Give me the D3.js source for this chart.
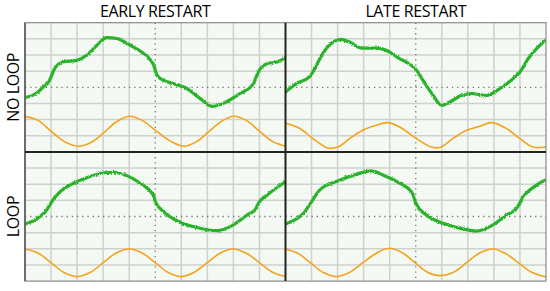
<!DOCTYPE html>
<html lang="en">
    <head>
        <title>Restart traces</title>
        <script src="https://d3js.org/d3.v7.min.js" charset="utf-8"></script>
    </head>
    <style>
            body { margin: 0; background: #fff; }
            .label {
              font-family: "Open Sans", sans-serif;
              font-size: 16px;
              letter-spacing: -0.4px;
              fill: #000;
            }
            .grid line {
              stroke: #cfd1cf;
              stroke-width: 1.5px;
            }
            .center {
              stroke: #777;
              stroke-width: 1.3px;
              stroke-dasharray: 1.3 3.9;
            }
            .green {
              fill: none;
              stroke: #2bb32b;
              stroke-width: 3.2px;
              stroke-linejoin: round;
            }
            .orange {
              fill: none;
              stroke: #f5a21c;
              stroke-width: 1.6px;
            }
    </style>
    <body>
        <script>
            // column / row labels
            var colLabels = ["EARLY RESTART", "LATE RESTART"];
            var rowLabels = ["NO LOOP", "LOOP"];

            // traces in screen divisions: [x (0..10), y (-4..4)]
            var greenEarlyNoLoop = [[0,-0.64],[0.45,-0.35],[0.77,0.12],[0.9,0.3],[1.02,0.72],[1.1,1.05],[1.3,1.45],[1.46,1.57],[1.99,1.67],[2.37,1.98],[2.76,2.6],[3.14,3.08],[3.53,3.02],[4.04,2.6],[4.54,2.11],[4.87,1.57],[4.96,1.3],[5.02,0.95],[5.19,0.54],[5.69,0.23],[6.22,-0.08],[6.73,-0.7],[7.18,-1.18],[7.62,-0.99],[8.27,-0.37],[8.72,0.12],[8.83,0.45],[8.93,0.87],[9.3,1.47],[9.68,1.57],[10,1.84]];
            var orangeEarlyNoLoop = [[0,-1.8],[0.5,-2.05],[1.0,-2.72],[1.5,-3.35],[2.05,-3.65],[2.55,-3.4],[3.0,-2.85],[3.5,-2.15],[4.0,-1.79],[4.5,-2.05],[5.05,-2.72],[5.6,-3.35],[6.1,-3.65],[6.6,-3.35],[7.05,-2.75],[7.55,-2.1],[8.0,-1.79],[8.5,-2.05],[9.0,-2.72],[9.5,-3.35],[10,-3.65]];

            var greenLateNoLoop = [[0,-0.29],[0.41,0.23],[0.92,0.64],[1.05,0.95],[1.43,2.09],[1.82,2.8],[2.14,2.97],[2.46,2.8],[2.91,2.43],[3.49,2.43],[3.87,2.29],[4.38,1.78],[4.83,1.36],[5.03,1.05],[5.28,0.43],[5.67,-0.5],[5.99,-1.11],[6.31,-0.91],[6.76,-0.5],[7.14,-0.39],[7.72,-0.5],[8.23,-0.08],[8.74,0.54],[9.0,0.95],[9.32,1.78],[9.64,2.4],[10,2.93]];
            var orangeLateNoLoop = [[0,-2.21],[0.54,-2.54],[1.04,-3.16],[1.62,-3.76],[2.0,-3.7],[2.46,-3.18],[2.96,-2.66],[3.49,-2.35],[3.92,-2.19],[4.38,-2.46],[5.03,-3.18],[5.6,-3.7],[5.92,-3.73],[6.42,-3.18],[6.95,-2.66],[7.46,-2.41],[7.91,-2.19],[8.49,-2.56],[9.0,-3.18],[9.5,-3.7],[10,-3.7]];

            var greenEarlyLoop = [[0,-0.46],[0.45,-0.15],[0.83,0.4],[0.95,0.7],[1.03,0.92],[1.35,1.54],[1.86,2.06],[2.37,2.4],[3.01,2.71],[3.4,2.74],[3.91,2.53],[4.42,2.06],[4.87,1.44],[4.96,1.2],[5.0,0.92],[5.32,0.3],[5.96,-0.36],[6.73,-0.73],[7.31,-0.88],[7.88,-0.63],[8.53,0.09],[8.85,0.45],[8.97,0.85],[9.3,1.33],[10,2.15]];
            var orangeEarlyLoop = [[0,-2.01],[0.5,-2.26],[1.0,-2.86],[1.5,-3.47],[2.0,-3.72],[2.5,-3.47],[3.0,-2.86],[3.5,-2.26],[4.0,-2.01],[4.5,-2.26],[5.0,-2.86],[5.5,-3.47],[5.98,-3.72],[6.5,-3.45],[7.0,-2.86],[7.5,-2.26],[7.97,-2.01],[8.5,-2.28],[9.0,-2.86],[9.5,-3.45],[10,-3.72]];

            var greenLateLoop = [[0,-0.46],[0.54,-0.01],[0.73,0.28],[0.92,0.71],[1.31,1.64],[2.01,2.2],[2.72,2.61],[3.3,2.82],[3.74,2.57],[4.38,2.06],[4.83,1.54],[4.93,1.2],[5.0,0.82],[5.41,0.09],[6.05,-0.42],[6.69,-0.73],[7.33,-0.9],[7.85,-0.63],[8.49,0.09],[8.87,0.51],[9.13,1.23],[9.64,1.95],[10,2.28]];
            var orangeLateLoop = [[0,-2.01],[0.5,-2.3],[0.95,-2.86],[1.45,-3.47],[1.95,-3.72],[2.45,-3.47],[2.97,-2.86],[3.5,-2.26],[4.0,-1.97],[4.5,-2.26],[4.97,-2.86],[5.45,-3.45],[5.92,-3.66],[6.45,-3.45],[6.95,-2.86],[7.45,-2.26],[7.97,-2.01],[8.45,-2.3],[8.97,-2.9],[9.47,-3.47],[10,-3.74]];

            var panels = [
                {col: 0, row: 0, green: greenEarlyNoLoop, orange: orangeEarlyNoLoop},
                {col: 1, row: 0, green: greenLateNoLoop, orange: orangeLateNoLoop},
                {col: 0, row: 1, green: greenEarlyLoop, orange: orangeEarlyLoop},
                {col: 1, row: 1, green: greenLateLoop, orange: orangeLateLoop}
            ];

            var width = 550, height = 291;
            var padL = 25, padT = 22.7, pw = 260.5, ph = 129.2;

            var svg = d3.select("body").append("svg")
                .attr("width", width)
                .attr("height", height);

            // vertical-only jitter for the noisy green trace
            var defs = svg.append("defs");
            var filt = defs.append("filter")
                .attr("id", "noise")
                .attr("x", "-5%").attr("y", "-20%")
                .attr("width", "110%").attr("height", "140%");
            filt.append("feTurbulence")
                .attr("type", "fractalNoise")
                .attr("baseFrequency", "1.1 0.9")
                .attr("numOctaves", 2)
                .attr("seed", 3)
                .attr("result", "turb");
            filt.append("feColorMatrix")
                .attr("in", "turb")
                .attr("type", "matrix")
                .attr("values", "0 0 0 0 0.5  0 1 0 0 0  0 0 1 0 0  0 0 0 0 1")
                .attr("result", "map");
            filt.append("feDisplacementMap")
                .attr("in", "SourceGraphic")
                .attr("in2", "map")
                .attr("scale", 3)
                .attr("xChannelSelector", "R")
                .attr("yChannelSelector", "G");

            panels.forEach(function(p, i) {
                var x0 = padL + p.col * pw, y0 = padT + p.row * ph;
                var x = d3.scaleLinear().domain([0, 10]).range([x0, x0 + pw]);
                var y = d3.scaleLinear().domain([-4, 4]).range([y0 + ph, y0]);

                defs.append("clipPath").attr("id", "clip" + i)
                  .append("rect")
                    .attr("x", x0).attr("y", y0)
                    .attr("width", pw).attr("height", ph);

                var g = svg.append("g");

                g.append("rect")
                    .attr("x", x0).attr("y", y0)
                    .attr("width", pw).attr("height", ph)
                    .attr("fill", "#f4f9f4");

                var grid = g.append("g").attr("class", "grid");
                grid.selectAll(".vx")
                    .data(d3.range(1, 10).filter(function(d) { return d !== 5; }))
                  .enter().append("line")
                    .attr("x1", x).attr("x2", x)
                    .attr("y1", y0).attr("y2", y0 + ph);
                grid.selectAll(".hy")
                    .data(d3.range(-3, 4).filter(function(d) { return d !== 0; }))
                  .enter().append("line")
                    .attr("y1", y).attr("y2", y)
                    .attr("x1", x0).attr("x2", x0 + pw);

                g.append("line").attr("class", "center")
                    .attr("x1", x0).attr("x2", x0 + pw)
                    .attr("y1", y(0)).attr("y2", y(0));
                g.append("line").attr("class", "center")
                    .attr("x1", x(5)).attr("x2", x(5))
                    .attr("y1", y0).attr("y2", y0 + ph);

                var line = d3.line()
                    .x(function(d) { return x(d[0]); })
                    .y(function(d) { return y(d[1]); });

                var traces = g.append("g").attr("clip-path", "url(#clip" + i + ")");
                traces.append("path")
                    .datum(p.orange)
                    .attr("class", "orange")
                    .attr("d", line.curve(d3.curveCatmullRom)(p.orange));
                traces.append("path")
                    .datum(p.green)
                    .attr("class", "green")
                    .attr("filter", "url(#noise)")
                    .attr("d", line.curve(d3.curveMonotoneX)(p.green));
            });

            // outer frame (grey) and dividers (dark)
            svg.append("rect")
                .attr("x", padL).attr("y", padT)
                .attr("width", 2 * pw).attr("height", 2 * ph)
                .attr("fill", "none")
                .attr("stroke", "#8a8a8a")
                .attr("stroke-width", 1.2);
            svg.append("line")
                .attr("x1", padL).attr("x2", padL)
                .attr("y1", padT).attr("y2", padT + 2 * ph)
                .attr("stroke", "#555").attr("stroke-width", 1.5);
            svg.append("line")
                .attr("x1", padL + pw).attr("x2", padL + pw)
                .attr("y1", padT).attr("y2", padT + 2 * ph)
                .attr("stroke", "#222").attr("stroke-width", 2);
            svg.append("line")
                .attr("x1", padL).attr("x2", padL + 2 * pw)
                .attr("y1", padT + ph).attr("y2", padT + ph)
                .attr("stroke", "#222").attr("stroke-width", 2);

            svg.selectAll(".col")
                .data(colLabels)
              .enter().append("text")
                .attr("class", "label")
                .attr("text-anchor", "middle")
                .attr("x", function(d, i) { return padL + pw * (i + 0.5); })
                .attr("y", 17)
                .text(function(d) { return d; });

            svg.selectAll(".row")
                .data(rowLabels)
              .enter().append("text")
                .attr("class", "label")
                .attr("text-anchor", "middle")
                .attr("transform", function(d, i) {
                    return "translate(19," + (padT + ph * (i + 0.5)) + ") rotate(-90)";
                })
                .text(function(d) { return d; });
        </script>
    </body>
</html>
